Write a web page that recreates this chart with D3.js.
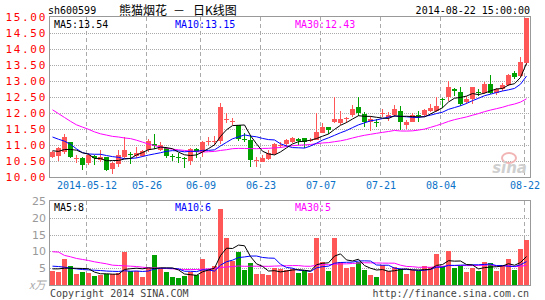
<!DOCTYPE html>
<html>
<head>
<meta charset="utf-8">
<script src="https://cdn.jsdelivr.net/npm/d3@7"></script>
<style>
  body { margin: 0; background: #fff; }
  svg { display: block; font-family: "DejaVu Sans Mono", monospace; }
</style>
</head>
<body>
<div id="chart"></div>
<script>
// daily K-line, sh600599, 2014-04-30 .. 2014-08-22
const opens = [10.63,10.67,10.77,11.09,10.58,10.60,10.44,10.66,10.52,10.63,
  10.25,10.40,10.64,10.73,10.67,10.67,10.84,11.02,10.84,10.92,
  10.66,10.62,10.58,10.50,10.88,10.77,11.11,11.13,11.14,11.80,
  11.74,11.63,11.20,11.16,10.52,10.48,10.55,10.72,10.99,11.03,
  11.10,11.19,11.21,11.15,11.16,11.39,11.57,11.71,11.68,11.84,
  11.94,12.20,11.97,11.71,11.72,11.98,11.89,11.95,12.05,11.64,
  11.73,11.93,11.94,12.07,12.07,12.43,12.51,12.75,12.65,12.33,
  12.44,12.66,12.63,12.91,12.63,12.75,12.89,13.25,13.17,13.55];
const highs = [10.82,10.95,11.34,11.10,10.69,10.64,10.75,10.69,10.84,10.64,
  10.48,10.84,11.24,10.77,10.95,10.84,11.18,11.34,11.09,10.95,
  10.71,10.74,10.64,10.90,10.90,11.13,11.25,11.29,12.30,11.99,
  11.83,11.63,11.37,11.31,10.61,10.69,10.84,11.07,11.10,11.18,
  11.26,11.21,11.23,11.21,11.99,11.68,11.57,12.49,12.06,11.88,
  12.25,12.49,12.04,11.91,11.81,12.14,12.02,12.25,12.23,11.78,
  11.99,12.07,12.12,12.28,12.49,12.46,13.01,12.78,12.82,12.54,
  12.82,12.75,12.98,13.19,12.78,12.93,13.22,13.32,13.76,14.96];
const lows = [10.60,10.51,10.71,10.58,10.43,10.22,10.38,10.38,10.48,10.19,
  10.09,10.32,10.60,10.41,10.58,10.64,10.79,10.89,10.80,10.60,
  10.51,10.43,10.29,10.36,10.58,10.62,10.99,10.99,11.03,11.68,
  11.62,11.13,11.10,10.32,10.32,10.46,10.53,10.69,10.90,10.95,
  11.07,11.00,10.90,11.10,11.16,11.37,11.33,11.68,11.62,11.68,
  11.89,11.91,11.55,11.45,11.55,11.86,11.76,11.86,11.47,11.50,
  11.71,11.71,11.86,12.02,12.02,12.15,12.38,12.54,12.23,12.28,
  12.28,12.54,12.59,12.59,12.57,12.70,12.85,13.06,13.11,13.50];
const closes = [10.77,10.92,11.26,10.64,10.60,10.37,10.69,10.60,10.64,10.22,
  10.43,10.69,10.84,10.72,10.76,10.81,11.14,10.97,11.00,10.67,
  10.64,10.60,10.56,10.88,10.77,11.10,11.13,11.14,12.20,11.81,
  11.75,11.18,11.19,10.53,10.53,10.60,10.76,11.03,11.00,11.16,
  11.21,11.12,11.10,11.16,11.42,11.57,11.47,11.81,11.81,11.85,
  12.12,11.99,11.71,11.80,11.71,11.99,11.94,12.12,11.71,11.73,
  11.94,11.92,12.09,12.16,12.23,12.42,12.82,12.68,12.28,12.44,
  12.82,12.65,12.91,12.63,12.75,12.89,13.19,13.12,13.60,14.96];
// volume, x10000 lots
const volumes = [4.1,4.0,7.8,5.6,3.3,3.9,3.6,2.8,3.1,3.3,
  3.3,3.6,9.9,4.1,4.1,2.4,5.1,8.8,5.1,4.0,
  2.4,2.1,2.8,4.0,3.1,7.6,4.8,5.6,22.7,14.1,
  7.1,9.9,4.6,6.6,3.3,3.3,3.0,5.1,4.8,4.6,
  4.8,3.6,4.1,3.6,14.1,6.9,4.3,14.1,6.9,5.1,
  5.4,6.9,4.6,3.0,2.4,6.1,4.3,5.4,4.8,3.3,
  4.6,4.3,5.8,5.4,9.1,5.8,10.1,5.1,5.6,3.9,
  5.1,4.3,6.9,6.6,4.3,6.1,7.8,4.6,10.6,13.3];

// moving-average values before the window has enough days
const ma5Head = [10.82,10.80,10.86,10.86];
const ma10Head = [11.25,11.18,11.12,11.02,10.88,10.76,10.72,10.71,10.71];
const ma30Head = [12.10,11.98,11.86,11.74,11.63,11.56,11.49,11.41,11.35,11.31,
  11.27,11.25,11.22,11.20,11.15,11.09,11.03,10.98,10.94,10.90,
  10.87,10.85,10.83,10.81,10.79,10.78,10.79,10.80,10.83];
const volMa5Head = [4.8,4.8,5.0,5.0];
const volMa10Head = [5.6,5.5,5.3,5.0,4.8,4.6,4.5,4.4,4.3];
const volMa30Head = [9.9,9.8,8.8,8.4,7.9,7.6,7.3,6.9,6.6,6.3,
  5.9,5.8,5.7,5.6,5.5,5.3,5.1,5.1,5.0,4.9,
  4.8,4.7,4.6,4.6,4.6,4.7,4.8,4.9,5.2];

const tickIdx = [6,16,25,35,45,55,65,79];
const tickLabels = ["2014-05-12","05-26","06-09","06-23","07-07","07-21","08-04","08-22"];
const priceTicks = [10,10.5,11,11.5,12,12.5,13,13.5,14,14.5,15];
const volTicks = [5,10,15,20,25];

const width = 545, height = 300;
const left = 50, right = 530;
const pTop = 17, pBot = 177;
const vTop = 201, vBot = 285;
const RED = "#ff5757", GREEN = "#00a000";

function movingAvg(vals, n, head) {
  return vals.map((v, i) => i < n - 1 ? head[i] : d3.mean(vals.slice(i - n + 1, i + 1)));
}

const n = closes.length;
const x = d3.scaleLinear().domain([0, n]).range([left, right]);
const yP = d3.scaleLinear().domain([10, 15]).range([pBot, pTop]);
const yV = d3.scaleLinear().domain([0, 25]).range([vBot, vTop]);

const svg = d3.select("#chart").append("svg")
  .attr("width", width)
  .attr("height", height);

// header
svg.append("text").attr("x", 48).attr("y", 14)
  .style("font-size", "10px").text("sh600599");
[[119, "熊猫烟花"], [173, "－"], [193, "日K线图"]].forEach(([tx, t]) => {
  svg.append("text").attr("x", tx).attr("y", 15)
    .style("font-family", "'Noto Sans CJK SC', sans-serif")
    .style("font-size", "12px").text(t);
});
svg.append("text").attr("x", 530).attr("y", 14)
  .attr("text-anchor", "end")
  .style("font-size", "10px").text("2014-08-22 15:00:00");

// grids
function panelGrid(yScale, ticks, y0, y1) {
  svg.append("g").selectAll("line").data(ticks).enter().append("line")
    .attr("x1", left).attr("x2", right)
    .attr("y1", d => Math.round(yScale(d)) + 0.5)
    .attr("y2", d => Math.round(yScale(d)) + 0.5)
    .attr("stroke", "#aaa").attr("stroke-dasharray", "1,1");
  svg.append("g").selectAll("line").data(tickIdx).enter().append("line")
    .attr("x1", d => x(d) + 0.5).attr("x2", d => x(d) + 0.5)
    .attr("y1", y0).attr("y2", y1)
    .attr("stroke", "#aaa").attr("stroke-dasharray", "4,3");
}
panelGrid(yP, priceTicks.slice(1, -1), pTop, pBot);
panelGrid(yV, volTicks.slice(0, -1), vTop, vBot);

// sina watermark
svg.append("ellipse").attr("cx", 509).attr("cy", 158).attr("rx", 7).attr("ry", 5)
  .attr("fill", "none").attr("stroke", "#f2b5b5").attr("stroke-width", 2);
svg.append("text").attr("x", 527).attr("y", 173).attr("text-anchor", "end")
  .style("font-family", "'DejaVu Sans', sans-serif")
  .style("font-size", "15px").style("font-weight", "bold").style("font-style", "italic")
  .attr("fill", "#cfcfcf").text("sina");

// candles
const candles = svg.append("g").attr("shape-rendering", "crispEdges");
const up = i => closes[i] >= opens[i];
candles.selectAll("line").data(d3.range(n)).enter().append("line")
  .attr("x1", i => x(i) + 2.5).attr("x2", i => x(i) + 2.5)
  .attr("y1", i => yP(highs[i])).attr("y2", i => yP(lows[i]))
  .attr("stroke", i => up(i) ? RED : GREEN);
candles.selectAll("rect").data(d3.range(n)).enter().append("rect")
  .attr("x", i => x(i))
  .attr("width", 5)
  .attr("y", i => yP(Math.max(opens[i], closes[i])))
  .attr("height", i => Math.max(1, Math.abs(yP(opens[i]) - yP(closes[i]))))
  .attr("fill", i => up(i) ? RED : GREEN);

// volume bars
svg.append("g").attr("shape-rendering", "crispEdges")
  .selectAll("rect").data(d3.range(n)).enter().append("rect")
  .attr("x", i => x(i))
  .attr("width", 5)
  .attr("y", i => yV(volumes[i]))
  .attr("height", i => vBot - yV(volumes[i]))
  .attr("fill", i => up(i) ? RED : GREEN);

// moving average lines
function maLine(vals, yScale, color) {
  const line = d3.line().x((d, i) => x(i) + 2.5).y(d => yScale(d));
  svg.append("path").attr("d", line(vals))
    .attr("fill", "none").attr("stroke", color).attr("stroke-width", 1);
}
maLine(movingAvg(closes, 30, ma30Head), yP, "#ff00ff");
maLine(movingAvg(closes, 10, ma10Head), yP, "#0000ff");
maLine(movingAvg(closes, 5, ma5Head), yP, "#000");
maLine(movingAvg(volumes, 30, volMa30Head), yV, "#ff00ff");
maLine(movingAvg(volumes, 10, volMa10Head), yV, "#0000ff");
maLine(movingAvg(volumes, 5, volMa5Head), yV, "#000");

// panel borders
[[pTop, pBot], [vTop, vBot]].forEach(([t, b]) => {
  svg.append("rect").attr("x", left - 0.5).attr("y", t - 0.5)
    .attr("width", right - left + 1).attr("height", b - t + 1)
    .attr("fill", "none").attr("stroke", "#999");
});

// axes
const pAxis = svg.append("g").attr("transform", `translate(${left},0)`)
  .call(d3.axisLeft(yP).tickValues(priceTicks).tickFormat(d3.format(".2f")).tickSize(0).tickPadding(3));
pAxis.select(".domain").remove();
pAxis.selectAll("text").attr("fill", "#f00")
  .style("font-family", "'DejaVu Sans Mono', monospace")
  .style("font-size", "11px").style("letter-spacing", "1.7px");

const vAxis = svg.append("g").attr("transform", `translate(${left - 3},0)`)
  .call(d3.axisLeft(yV).tickValues(volTicks).tickSize(0).tickPadding(1));
vAxis.select(".domain").remove();
vAxis.selectAll("text").attr("fill", "#999")
  .style("font-family", "'DejaVu Sans', sans-serif").style("font-size", "11px");

const xAxis = svg.append("g").attr("transform", `translate(0.5,${pBot})`)
  .call(d3.axisBottom(x).tickValues(tickIdx).tickFormat((d, k) => tickLabels[k]).tickSize(0).tickPadding(5));
xAxis.select(".domain").remove();
xAxis.selectAll("text").attr("fill", "#0a72c8")
  .style("font-family", "'DejaVu Sans Mono', monospace").style("font-size", "10px");

// legends
function legend(y, items) {
  items.forEach(([lx, label, color]) => {
    svg.append("text").attr("x", lx).attr("y", y).attr("fill", color)
      .style("font-size", "10px").text(label);
  });
}
legend(28, [[54, "MA5:13.54", "#000"], [175, "MA10:13.15", "#0000ff"], [295, "MA30:12.43", "#ff00ff"]]);
legend(211, [[54, "MA5:8", "#000"], [175, "MA10:6", "#0000ff"], [295, "MA30:5", "#ff00ff"]]);

// footer
svg.append("text").attr("x", 29).attr("y", 289)
  .style("font-family", "'Noto Sans CJK SC', sans-serif")
  .style("font-size", "11px").style("font-style", "italic")
  .attr("fill", "#aaa").text("x万");
svg.append("text").attr("x", 50).attr("y", 297)
  .style("font-size", "10px").attr("fill", "#444").text("Copyright 2014 SINA.COM");
svg.append("text").attr("x", 529).attr("y", 297).attr("text-anchor", "end")
  .style("font-size", "10px").attr("fill", "#444").text("http://finance.sina.com.cn");
</script>
</body>
</html>
